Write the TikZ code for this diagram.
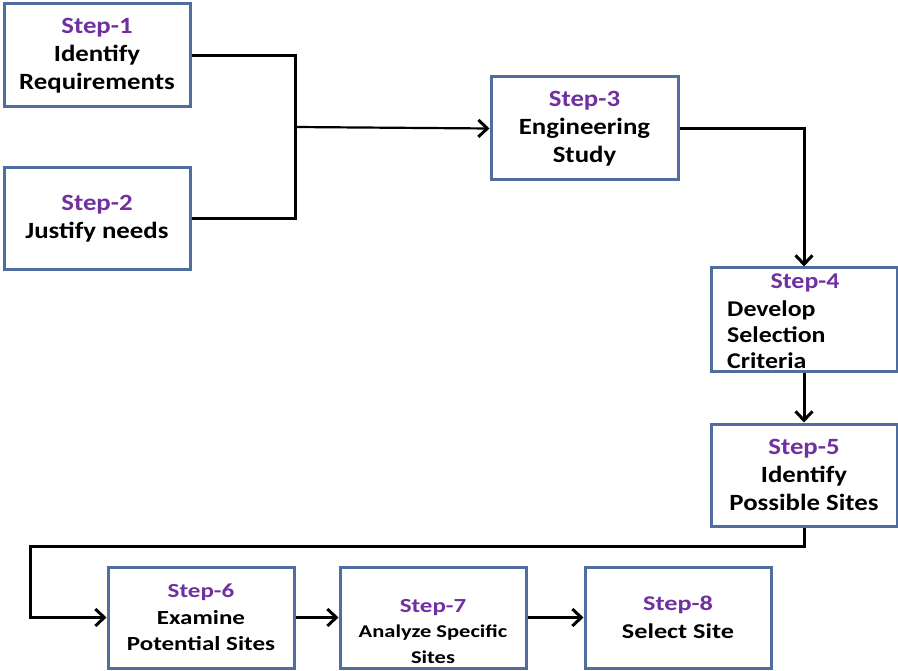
\documentclass[tikz,border=0pt]{standalone}
\usepackage{fontspec}
\setmainfont{Carlito}[FakeStretch=1.25]
\newfontfamily\topfont{Carlito}[FakeStretch=1.15]
\usetikzlibrary{arrows.meta}
\definecolor{boxblue}{HTML}{4F6E9E}
\definecolor{steppurple}{HTML}{7030A0}
\tikzset{
  stepbox/.style={draw=boxblue, line width=3pt, fill=white, minimum width=186pt, minimum height=102pt, inner sep=0pt, align=center, font=\topfont\bfseries\fontsize{23.3}{28}\selectfont},
  txt/.style={inner sep=0pt, font=\topfont\bfseries\fontsize{22.5}{26}\selectfont},
  conn/.style={line width=3pt, black},
  arr/.style={conn, -{Straight Barb[length=9pt,width=17pt,line width=3pt]}},
}
\newcommand{\stp}[1]{\textcolor{steppurple}{#1}}
\begin{document}
\begin{tikzpicture}[x=1pt,y=-1pt]
\useasboundingbox (0,0) rectangle (898,671);
\node[stepbox, minimum height=103pt] (b1) at (97,55.5) {\stp{Step-1}\\Identify\\Requirements};
\node[stepbox] (b2) at (97,219) {\stp{Step-2}\\Justify needs};
\node[stepbox, minimum width=187pt, minimum height=103pt] (b3) at (584.5,128.5) {\stp{Step-3}\\Engineering\\Study};
\node[stepbox, minimum height=104pt] (b4) at (804,320) {};
\node[txt] (t4a) at (805,283) {\stp{Step-4}};
\node[txt, anchor=west, align=left] (t4b) at (727,335) {Develop\\Selection\\Criteria};
\node[stepbox, minimum height=101pt, font=\bfseries\fontsize{20}{26.5}\selectfont] (b6) at (201,617.5) {\stp{Step-6}\\Examine\\Potential Sites};
\node[stepbox] (b5) at (804,475) {\stp{Step-5}\\Identify\\Possible Sites};
\node[stepbox, minimum height=101pt] (b7) at (433,617.5) {};
\node[txt, font=\bfseries\fontsize{18}{25.5}\selectfont, align=center] (t7) at (433,631.5) {\stp{\fontsize{20}{25.5}\selectfont Step-7}\\Analyze Specific\\Sites};
\node[stepbox, minimum height=101pt, font=\bfseries\fontsize{21}{28}\selectfont] (b8) at (678,617.5) {\stp{Step-8}\\Select Site};
\coordinate (j) at (295,127);
\coordinate (c1) at (30,546);
\draw[conn] (b1.east) -| (j) |- (b2.east);
\draw[arr, line width=2.2pt] (j) -- (b3.west);
\draw[arr] (b3.east) -| (b4.north);
\draw[arr] (b4.south) -- (b5.north);
\draw[arr] (b5.south) |- (c1) |- (b6.west);
\draw[arr] (b6.east) -- (b7.west);
\draw[arr] (b7.east) -- (b8.west);
\end{tikzpicture}
\end{document}
